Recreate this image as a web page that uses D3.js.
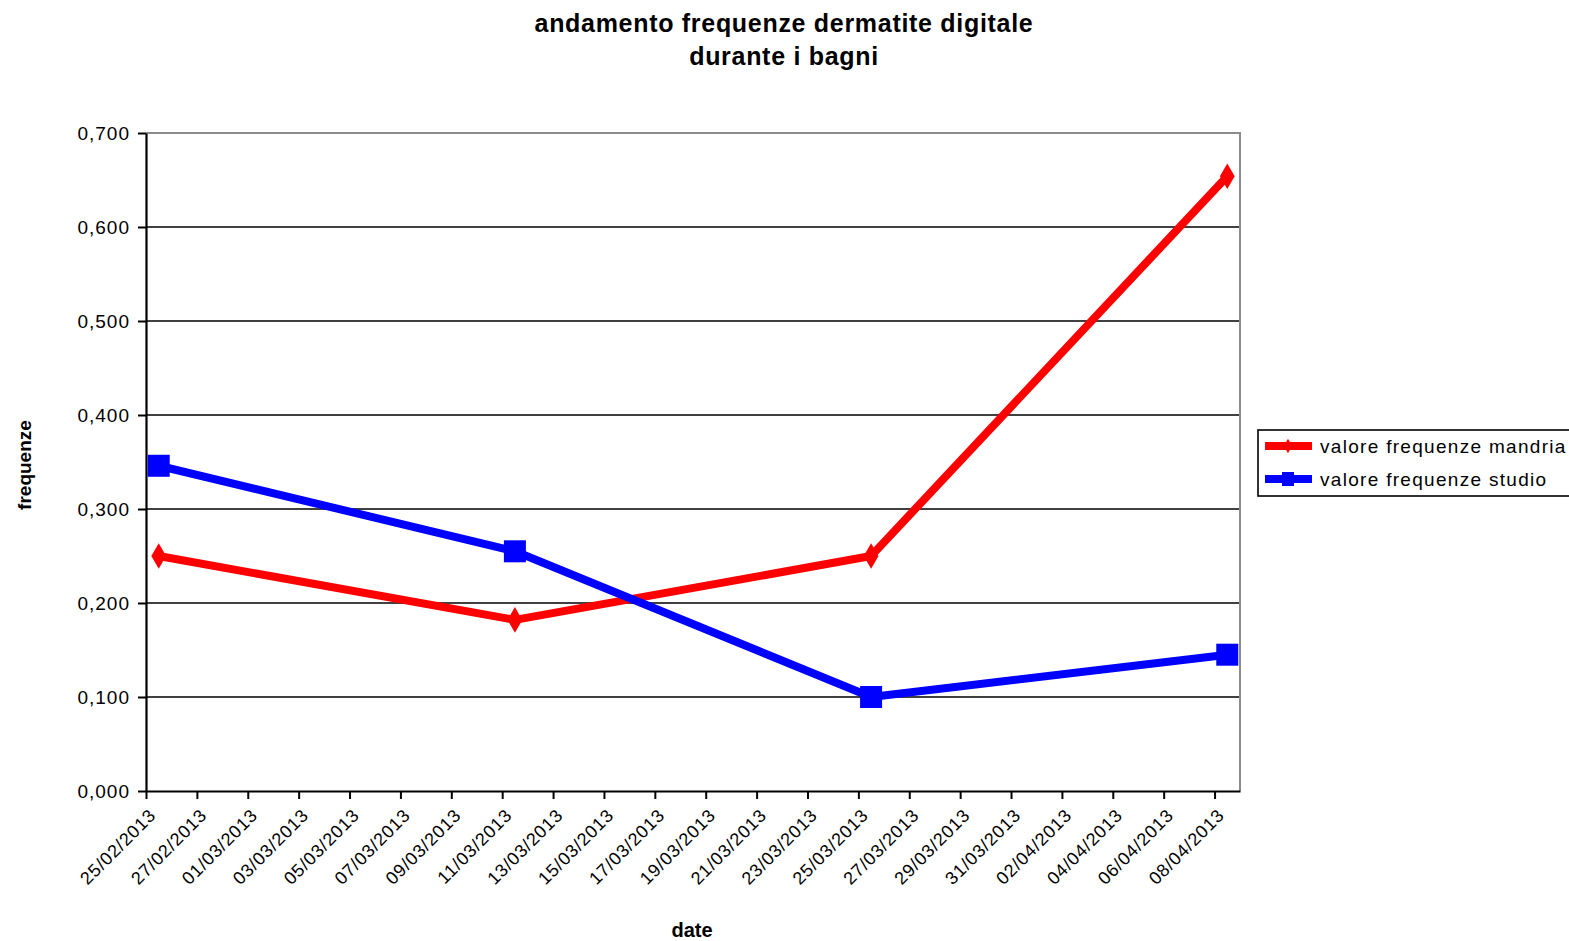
<!DOCTYPE html>
<html>
<head>
<meta charset="utf-8">
<script src="https://cdn.jsdelivr.net/npm/d3@7"></script>
<style>
  body { margin: 0; background: #fff; }
  svg { display: block; }
  text { font-family: "Liberation Sans", Arial, sans-serif; fill: #000; }
</style>
</head>
<body>
<svg id="chart" width="1569" height="941"></svg>
<script>
// Sampling dates and frequency values
const dates = ["25/02/2013", "11/03/2013", "25/03/2013", "08/04/2013"];
const mandria = [0.250, 0.182, 0.250, 0.654];
const studio = [0.346, 0.255, 0.100, 0.145];
const seriesNames = ["valore frequenze mandria", "valore frequenze studio"];
const seriesColors = ["#ff0000", "#0000ff"];

// Axis ticks
const xTickLabels = ["25/02/2013", "27/02/2013", "01/03/2013", "03/03/2013", "05/03/2013",
  "07/03/2013", "09/03/2013", "11/03/2013", "13/03/2013", "15/03/2013", "17/03/2013",
  "19/03/2013", "21/03/2013", "23/03/2013", "25/03/2013", "27/03/2013", "29/03/2013",
  "31/03/2013", "02/04/2013", "04/04/2013", "06/04/2013", "08/04/2013"];
const xDomain = ["25/02/2013", "09/04/2013"];
const yTicks = [0, 0.1, 0.2, 0.3, 0.4, 0.5, 0.6, 0.7];

const parse = d3.utcParse("%d/%m/%Y");
const fmtDate = d3.utcFormat("%d/%m/%Y");
const it = d3.formatLocale({ decimal: ",", thousands: ".", grouping: [3], currency: ["€", ""] });
const fmtY = it.format(".3f");

const svg = d3.select("#chart");
const plot = { left: 146, right: 1240, top: 133, bottom: 791 };

const x = d3.scaleUtc().domain(xDomain.map(parse)).range([plot.left, plot.right]);
const y = d3.scaleLinear().domain([0, 0.7]).range([plot.bottom, plot.top]);

// Points sit in the middle of their day slot
const px = s => x(d3.utcHour.offset(parse(s), 12));

// Title
const title = svg.append("text")
  .attr("x", 784).attr("text-anchor", "middle")
  .style("font-size", "25px").style("font-weight", "bold").style("letter-spacing", "0.7px");
title.append("tspan").attr("x", 784).attr("y", 32).text("andamento frequenze dermatite digitale");
title.append("tspan").attr("x", 784).attr("y", 65).text("durante i bagni");

// Horizontal gridlines
svg.append("g").selectAll("line")
  .data(yTicks.filter(v => v > 0 && v < 0.7))
  .join("line")
  .attr("x1", plot.left).attr("x2", plot.right)
  .attr("y1", d => y(d)).attr("y2", d => y(d))
  .attr("stroke", "#000").attr("stroke-width", 1.6);

// Plot frame (top and right edges)
svg.append("path")
  .attr("d", `M${plot.left},${plot.top}H${plot.right}V${plot.bottom}`)
  .attr("fill", "none").attr("stroke", "#8c8c8c").attr("stroke-width", 2);

// Y axis
const yAxis = svg.append("g")
  .attr("transform", `translate(${plot.left},0)`)
  .call(d3.axisLeft(y).tickValues(yTicks).tickFormat(fmtY).tickSize(8).tickSizeOuter(0).tickPadding(8));
yAxis.select(".domain").attr("stroke", "#000").attr("stroke-width", 2.2);
yAxis.selectAll(".tick line").attr("stroke", "#000").attr("stroke-width", 2);
yAxis.selectAll(".tick text")
  .style("font-size", "19px").style("letter-spacing", "1px")
  .attr("fill", "#000").attr("font-family", null);

// X axis
const xAxis = svg.append("g")
  .attr("transform", `translate(0,${plot.bottom})`)
  .call(d3.axisBottom(x).tickValues(xTickLabels.map(parse)).tickFormat(fmtDate).tickSize(8).tickSizeOuter(0));
xAxis.select(".domain").attr("stroke", "#000").attr("stroke-width", 2.2);
xAxis.selectAll(".tick line").attr("stroke", "#000").attr("stroke-width", 2);
xAxis.selectAll(".tick text")
  .style("font-size", "18px").style("letter-spacing", "0.8px")
  .attr("fill", "#000").attr("font-family", null)
  .attr("text-anchor", "end")
  .attr("x", 0).attr("y", 0).attr("dy", "0.35em")
  .attr("transform", "translate(6,21) rotate(-45)");

// Axis titles
svg.append("text")
  .attr("transform", "translate(31,465) rotate(-90)")
  .attr("text-anchor", "middle")
  .style("font-size", "19px").style("font-weight", "bold")
  .text("frequenze");
svg.append("text")
  .attr("x", 692).attr("y", 937).attr("text-anchor", "middle")
  .style("font-size", "20px").style("font-weight", "bold")
  .text("date");

// Series
const series = [mandria, studio];
const line = d3.line().x((d, i) => px(dates[i])).y(d => y(d));

series.forEach((vals, k) => {
  svg.append("path")
    .datum(vals)
    .attr("d", line)
    .attr("fill", "none")
    .attr("stroke", seriesColors[k])
    .attr("stroke-width", 8)
    .attr("stroke-linejoin", "round");
});

// Markers: diamonds for the herd, squares for the study group
const diamond = d3.symbol().type(d3.symbolDiamond).size(190);
svg.append("g").selectAll("path")
  .data(mandria)
  .join("path")
  .attr("d", diamond)
  .attr("transform", (d, i) => `translate(${px(dates[i])},${y(d)})`)
  .attr("fill", seriesColors[0]);

svg.append("g").selectAll("rect")
  .data(studio)
  .join("rect")
  .attr("x", (d, i) => px(dates[i]) - 11)
  .attr("y", d => y(d) - 11)
  .attr("width", 22).attr("height", 22)
  .attr("fill", seriesColors[1]);

// Legend
const legend = svg.append("g");
legend.append("rect")
  .attr("x", 1258).attr("y", 430).attr("width", 330).attr("height", 66)
  .attr("fill", "#fff").attr("stroke", "#000").attr("stroke-width", 1.6);
seriesNames.forEach((name, k) => {
  const ly = 446 + k * 33;
  legend.append("line")
    .attr("x1", 1265).attr("x2", 1312).attr("y1", ly).attr("y2", ly)
    .attr("stroke", seriesColors[k]).attr("stroke-width", 8);
  if (k === 0) {
    legend.append("path")
      .attr("d", d3.symbol().type(d3.symbolDiamond).size(60))
      .attr("transform", `translate(1288,${ly})`)
      .attr("fill", seriesColors[k]);
  } else {
    legend.append("rect")
      .attr("x", 1282).attr("y", ly - 7).attr("width", 12).attr("height", 14)
      .attr("fill", seriesColors[k]);
  }
  legend.append("text")
    .attr("x", 1320).attr("y", ly + 7)
    .style("font-size", "19px").style("letter-spacing", "1.3px")
    .text(name);
});
</script>
</body>
</html>
